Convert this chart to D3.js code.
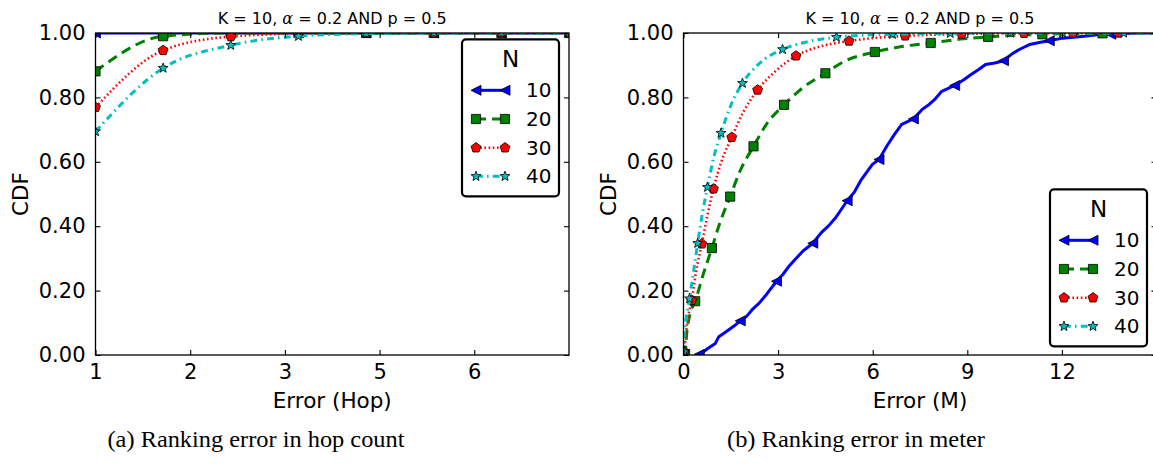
<!DOCTYPE html>
<html><head><meta charset="utf-8">
<script src="https://cdn.jsdelivr.net/npm/d3@7"></script>
<style>body{margin:0;background:#fff} svg{display:block}</style>
</head><body><svg id="c" width="1153" height="464"></svg>
<script>
// ---------- DATA ----------
const seriesNames = ["10", "20", "30", "40"];
const legendTitle = "N";
const cdfTicks = [0, 0.2, 0.4, 0.6, 0.8, 1.0];

// (a) hop count
const hopX = [1, 2, 3, 4, 5, 6, 7, 8];
const hopN10 = [1, 1, 1, 1, 1, 1, 1, 1];
const hopN20 = [0.881, 0.990, 1.0, 1.0, 1.0, 1.0, 1.0, 1.0];
const hopN30 = [0.769, 0.946, 0.989, 0.998, 1.0, 1.0, 1.0, 1.0];
const hopN40 = [0.694, 0.891, 0.962, 0.990, 0.998, 1.0, 1.0, 1.0];
const hopTicks = [1, 2.4, 3.8, 5.2, 6.6];
const hopTickLabels = ["1", "2", "3", "5", "6"];

// (b) meter
const meterTicks = [0, 3, 6, 9, 12];
const mN10X = [0.37,0.53,0.78,1.01,1.12,1.36,1.59,1.80,2.00,2.17,2.40,2.63,2.95,3.15,3.33,3.56,3.79,4.10,4.37,4.60,4.83,5.19,5.41,5.64,5.99,6.20,6.45,6.69,6.92,7.29,7.56,7.79,7.96,8.19,8.60,8.89,9.12,9.35,9.58,9.87,10.15,10.39,10.63,10.97,11.32,11.60,12.02,12.71,13.17,13.51,13.87,14.33,15.0];
const mN10Y = [0,0.002,0.021,0.036,0.057,0.073,0.089,0.106,0.120,0.140,0.161,0.188,0.229,0.250,0.274,0.299,0.323,0.347,0.380,0.401,0.427,0.479,0.505,0.545,0.592,0.607,0.649,0.685,0.716,0.733,0.762,0.778,0.793,0.819,0.837,0.855,0.871,0.886,0.902,0.907,0.914,0.933,0.948,0.964,0.971,0.976,0.984,0.990,0.995,0.996,0.998,1.0,1.0];
const mN10MkX = [0.50,1.80,2.95,4.10,5.19,6.20,7.29,8.60,10.15,11.60,13.55];
const mN10MkY = [0.002,0.106,0.229,0.347,0.479,0.607,0.733,0.837,0.914,0.976,0.996];

const mN20X = [0,0.05,0.10,0.21,0.37,0.63,0.90,1.16,1.48,1.80,2.22,2.64,3.19,3.81,4.50,5.06,6.07,6.92,7.84,8.77,9.66,11.38,13.29,15.0];
const mN20Y = [0,0.003,0.066,0.128,0.167,0.252,0.332,0.412,0.492,0.573,0.648,0.718,0.777,0.832,0.875,0.910,0.941,0.958,0.969,0.981,0.988,0.996,0.999,1.0];
const mN20MkX = [0.05,0.37,0.90,1.48,2.22,3.19,4.50,6.07,7.84,9.66,11.38,13.29];
const mN20MkY = [0.003,0.167,0.332,0.492,0.648,0.777,0.875,0.941,0.969,0.988,0.996,0.999];

const mN30X = [0,0.03,0.08,0.15,0.26,0.40,0.58,0.75,0.95,1.20,1.53,1.90,2.35,2.90,3.57,4.30,5.25,6.10,7.03,8.82,10.80,12.35,15.0];
const mN30Y = [0,0.02,0.07,0.12,0.170,0.260,0.345,0.430,0.516,0.600,0.676,0.755,0.823,0.880,0.929,0.957,0.975,0.985,0.991,0.997,0.999,1.0,1.0];
const mN30MkX = [0.02,0.26,0.58,0.95,1.53,2.35,3.57,5.25,7.03,8.82,10.80,12.35,13.80];
const mN30MkY = [0.01,0.170,0.345,0.516,0.676,0.823,0.929,0.975,0.991,0.997,0.999,1.0,1.0];

const mN40X = [0,0.02,0.08,0.19,0.32,0.45,0.60,0.76,0.95,1.19,1.50,1.87,2.40,3.14,3.90,4.85,5.70,6.63,8.46,10.37,15.0];
const mN40Y = [0,0.05,0.11,0.175,0.260,0.347,0.440,0.521,0.610,0.689,0.775,0.844,0.905,0.949,0.972,0.987,0.993,0.996,0.999,1.0,1.0];
const mN40MkX = [0.02,0.19,0.45,0.76,1.19,1.87,3.14,4.85,6.63,8.46,10.37,12.02,13.96];
const mN40MkY = [0.01,0.175,0.347,0.521,0.689,0.844,0.949,0.987,0.996,0.999,1.0,1.0,1.0];

// ---------- STYLE ----------
const FONT = "'DejaVu Sans', sans-serif";
const styles = [
  {color: "#0000ff", dash: null, marker: "tri", size: 5, width: 3},
  {color: "#008000", dash: "10,6", marker: "sq", size: 4.6, width: 3},
  {color: "#ff0000", dash: "1.6,2.6", marker: "pent", size: 5.2, width: 2.6},
  {color: "#00bfbf", dash: "6.8,4.2,1.6,4.2", marker: "star", size: 5.2, width: 3}
];
const markerPath = {
  tri: s => `M${-s},0L${s},${-s}L${s},${s}Z`,
  sq: s => `M${-s},${-s}H${s}V${s}H${-s}Z`,
  pent: r => "M" + d3.range(5).map(k => { const a = -Math.PI/2 + k*2*Math.PI/5; return [r*Math.cos(a), r*Math.sin(a)]; }).join("L") + "Z",
  star: r => "M" + d3.range(10).map(k => { const a = -Math.PI/2 + k*Math.PI/5; const rr = k % 2 ? r*0.42 : r; return [rr*Math.cos(a), rr*Math.sin(a)]; }).join("L") + "Z"
};

const svg = d3.select("#c");
svg.append("rect").attr("width", 1153).attr("height", 464).attr("fill", "#fff");

function zip(xs, ys) { return xs.map((x, i) => [x, ys[i]]); }

function drawPanel(p) {
  const g = svg.append("g");
  const x = d3.scaleLinear().domain(p.xDomain).range([p.x0, p.x1]);
  const y = d3.scaleLinear().domain([0, 1]).range([p.y1, p.y0]);
  const cid = "clip" + p.id;
  svg.append("clipPath").attr("id", cid).append("rect")
    .attr("x", p.x0).attr("y", p.y0).attr("width", p.x1 - p.x0).attr("height", p.y1 - p.y0);

  const plot = g.append("g").attr("clip-path", `url(#${cid})`);
  p.series.forEach((s, i) => {
    const st = styles[i];
    const line = d3.line().x(d => x(d[0])).y(d => y(d[1])).curve(s.curve || d3.curveLinear);
    plot.append("path").attr("d", line(s.line)).attr("fill", "none")
      .attr("stroke", st.color).attr("stroke-width", st.width)
      .attr("stroke-dasharray", st.dash).attr("stroke-linejoin", "round");
    plot.selectAll(null).data(s.marks).enter().append("path")
      .attr("d", markerPath[st.marker](st.size))
      .attr("transform", d => `translate(${x(d[0])},${y(d[1])})`)
      .attr("fill", st.color).attr("stroke", "#000").attr("stroke-width", 0.8);
  });

  // frame
  g.append("rect").attr("x", p.x0).attr("y", p.y0).attr("width", p.x1 - p.x0).attr("height", p.y1 - p.y0)
    .attr("fill", "none").attr("stroke", "#000").attr("stroke-width", 1.3);

  // axes via d3 axis, inward ticks
  const axB = d3.axisBottom(x).tickValues(p.xTicks).tickSizeInner(-5).tickSizeOuter(0).tickPadding(9)
    .tickFormat((d, i) => p.xTickLabels[i]);
  const gb = g.append("g").attr("transform", `translate(0,${p.y1})`).call(axB);
  const axT = d3.axisTop(x).tickValues(p.xTicks).tickSizeInner(-5).tickSizeOuter(0).tickFormat("");
  const gt = g.append("g").attr("transform", `translate(0,${p.y0})`).call(axT);
  const axL = d3.axisLeft(y).tickValues(cdfTicks).tickSizeInner(-5).tickSizeOuter(0).tickPadding(10)
    .tickFormat(d3.format(".2f"));
  const gl = g.append("g").attr("transform", `translate(${p.x0},0)`).call(axL);
  const axR = d3.axisRight(y).tickValues(cdfTicks).tickSizeInner(-5).tickSizeOuter(0).tickFormat("");
  const gr = g.append("g").attr("transform", `translate(${p.x1},0)`).call(axR);
  [gb, gt, gl, gr].forEach(a => {
    a.select(".domain").remove();
    a.selectAll("line").attr("stroke", "#000").attr("stroke-width", 1.1);
    a.selectAll("text").attr("font-family", FONT).attr("font-size", 21).attr("fill", "#000");
  });

  // labels
  g.append("text").attr("x", (p.x0 + p.x1) / 2).attr("y", 408).attr("text-anchor", "middle")
    .attr("font-family", FONT).attr("font-size", 21.5).text(p.xLabel);
  g.append("text").attr("transform", `translate(${p.x0 - 75},${(p.y0 + p.y1) / 2}) rotate(-90)`)
    .attr("text-anchor", "middle").attr("dy", "0.36em")
    .attr("font-family", FONT).attr("font-size", 21.5).text("CDF");
  const t = g.append("text").attr("x", (p.x0 + p.x1) / 2).attr("y", 23.5).attr("text-anchor", "middle")
    .attr("font-family", FONT).attr("font-size", 16);
  t.append("tspan").text("K = 10, ");
  t.append("tspan").attr("font-family", "'DejaVu Serif', serif").attr("font-style", "italic").text("α");
  t.append("tspan").text(" = 0.2 AND p = 0.5");

  // caption
  g.append("text").attr("x", p.capX).attr("y", 447).attr("text-anchor", "middle")
    .attr("font-family", "'Liberation Serif', serif").attr("font-size", 23)
    .attr("textLength", p.capW).attr("lengthAdjust", "spacingAndGlyphs").text(p.caption);

  // legend
  const lg = g.append("g").attr("transform", `translate(${p.legend[0]},${p.legend[1]})`);
  lg.append("rect").attr("x", 0).attr("y", 0).attr("width", 97).attr("height", 157).attr("rx", 4)
    .attr("fill", "#fff").attr("stroke", "#000").attr("stroke-width", 2.2);
  lg.append("text").attr("x", 48.5).attr("y", 28).attr("text-anchor", "middle")
    .attr("font-family", FONT).attr("font-size", 23).text(legendTitle);
  const rows = [51, 79.7, 108.5, 137];
  seriesNames.forEach((nm, i) => {
    const st = styles[i];
    const ry = rows[i];
    lg.append("line").attr("x1", 14).attr("x2", 43).attr("y1", ry).attr("y2", ry)
      .attr("stroke", st.color).attr("stroke-width", st.width).attr("stroke-dasharray", st.dash);
    [14, 43].forEach(mx => lg.append("path").attr("d", markerPath[st.marker](st.size))
      .attr("transform", `translate(${mx},${ry})`).attr("fill", st.color)
      .attr("stroke", "#000").attr("stroke-width", 0.8));
    lg.append("text").attr("x", 64).attr("y", ry).attr("dy", "0.36em")
      .attr("font-family", FONT).attr("font-size", 20).text(nm);
  });
}

drawPanel({
  id: "a", x0: 95.5, x1: 569, y0: 33, y1: 355, xDomain: [1, 8],
  xTicks: hopTicks, xTickLabels: hopTickLabels, xLabel: "Error (Hop)",
  caption: "(a) Ranking error in hop count", capX: 256, capW: 297,
  legend: [462, 39.3],
  series: [hopN10, hopN20, hopN30, hopN40].map(ys => ({
    line: zip(hopX, ys), marks: zip(hopX, ys), curve: d3.curveMonotoneX }))
});

drawPanel({
  id: "b", x0: 683.5, x1: 1156.5, y0: 33, y1: 355, xDomain: [0, 15],
  xTicks: meterTicks, xTickLabels: meterTicks.map(String), xLabel: "Error (M)",
  caption: "(b) Ranking error in meter", capX: 856, capW: 258,
  legend: [1050, 189.3],
  series: [
    {line: zip(mN10X, mN10Y), marks: zip(mN10MkX, mN10MkY), curve: d3.curveLinear},
    {line: zip(mN20X, mN20Y), marks: zip(mN20MkX, mN20MkY), curve: d3.curveMonotoneX},
    {line: zip(mN30X, mN30Y), marks: zip(mN30MkX, mN30MkY), curve: d3.curveMonotoneX},
    {line: zip(mN40X, mN40Y), marks: zip(mN40MkX, mN40MkY), curve: d3.curveMonotoneX}
  ]
});
</script></body></html>
